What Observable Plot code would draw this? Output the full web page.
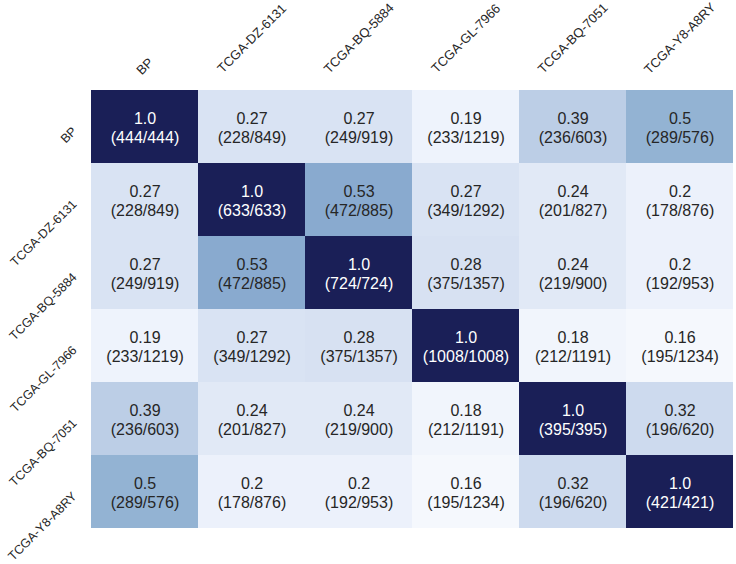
<!DOCTYPE html>
<html><head><meta charset="utf-8">
<script src="https://cdn.jsdelivr.net/npm/d3@7"></script>
<script src="https://cdn.jsdelivr.net/npm/@observablehq/plot@0.6"></script>
<style>body{margin:0;background:#fff;}</style>
</head><body><div id="chart"></div>
<script>
const samples = ["BP", "TCGA-DZ-6131", "TCGA-BQ-5884", "TCGA-GL-7966", "TCGA-BQ-7051", "TCGA-Y8-A8RY"];
const values = [
  [1.0, 0.27, 0.27, 0.19, 0.39, 0.5],
  [0.27, 1.0, 0.53, 0.27, 0.24, 0.2],
  [0.27, 0.53, 1.0, 0.28, 0.24, 0.2],
  [0.19, 0.27, 0.28, 1.0, 0.18, 0.16],
  [0.39, 0.24, 0.24, 0.18, 1.0, 0.32],
  [0.5, 0.2, 0.2, 0.16, 0.32, 1.0]
];
const shared = [
  [444, 228, 249, 233, 236, 289],
  [228, 633, 472, 349, 201, 178],
  [249, 472, 724, 375, 219, 192],
  [233, 349, 375, 1008, 212, 195],
  [236, 201, 219, 212, 395, 196],
  [289, 178, 192, 195, 196, 421]
];
const totals = [
  [444, 849, 919, 1219, 603, 576],
  [849, 633, 885, 1292, 827, 876],
  [919, 885, 724, 1357, 900, 953],
  [1219, 1292, 1357, 1008, 1191, 1234],
  [603, 827, 900, 1191, 395, 620],
  [576, 876, 953, 1234, 620, 421]
];
const colorStops = [0, 0.16, 0.2, 0.27, 0.39, 0.5, 0.53, 1.0];
const colorRange = ["#ffffff", "#f5f8fd", "#ecf1fb", "#d9e3f3", "#bccee6", "#93b3d3", "#89aacf", "#1a1f57"];

const cells = [];
samples.forEach((r, i) => samples.forEach((c, j) => {
  cells.push({row: r, col: c, value: values[i][j], n: shared[i][j], d: totals[i][j]});
}));
const fmt = v => Number.isInteger(v) ? v.toFixed(1) : String(v);
const label = d => `${fmt(d.value)}\n(${d.n}/${d.d})`;
const font = "'Liberation Sans', Arial, sans-serif";

const chart = Plot.plot({
  width: 736, height: 564,
  marginLeft: 90, marginRight: 2, marginTop: 88, marginBottom: 35,
  x: {domain: samples, padding: 0, axis: null},
  y: {domain: samples, padding: 0, axis: null},
  color: {type: "linear", domain: colorStops, range: colorRange},
  style: {fontFamily: font, background: "white"},
  marks: [
    Plot.cell(cells, {x: "col", y: "row", fill: "value"}),
    Plot.text(cells.filter(d => d.value > 0.7), {x: "col", y: "row", text: label, fill: "white", fontSize: 16, lineHeight: 1.2}),
    Plot.text(cells.filter(d => d.value <= 0.7), {x: "col", y: "row", text: label, fill: "#262626", fontSize: 16, lineHeight: 1.2}),
    Plot.text(samples, {y: d => d, text: d => d, frameAnchor: "left", dx: -13, dy: 5, rotate: -45, textAnchor: "end", lineAnchor: "bottom", fontSize: 12.5, fill: "#262626"}),
    Plot.text(samples.filter(d => d === "BP"), {x: d => d, text: d => d, frameAnchor: "top", dy: -22, rotate: -45, textAnchor: "middle", lineAnchor: "middle", fontSize: 13, fill: "#262626"}),
    Plot.text(samples.filter(d => d !== "BP"), {x: d => d, text: d => d, frameAnchor: "top", dy: -50, rotate: -45, textAnchor: "middle", lineAnchor: "middle", fontSize: 13, fill: "#262626"})
  ]
});
document.getElementById("chart").appendChild(chart);
</script>
</body></html>
